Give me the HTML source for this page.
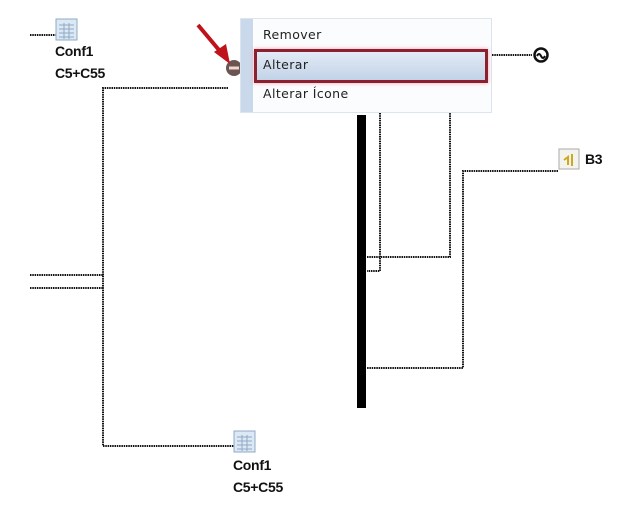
<!DOCTYPE html>
<html><head><style>
body{margin:0;width:637px;height:508px;background:#fff;overflow:hidden;position:relative;font-family:"Liberation Sans",sans-serif}
.lbl{position:absolute;font-weight:bold;font-size:14px;line-height:22px;color:#111;letter-spacing:-0.3px}
.menu{position:absolute;left:240px;top:18px;width:252px;height:95px;background:#fbfcfe;border:1px solid #dde4ee;box-sizing:border-box}
.menu .strip{position:absolute;left:0;top:0;width:12px;height:100%;background:#c9d8ea}
.mi{position:absolute;left:22px;font-family:"DejaVu Sans",sans-serif;font-size:12.5px;color:#222;letter-spacing:0.4px}
.hl{position:absolute;left:13px;top:30px;width:234px;height:34px;box-sizing:border-box;border:3px solid #8b2030;background:linear-gradient(#e2eaf5,#c2d3e8);box-shadow:0 0 4px #f5a0a8}
</style></head><body>
<svg width="637" height="508" style="position:absolute;left:0;top:0">
<g fill="none" stroke="#111" stroke-width="2" stroke-dasharray="1.5 0.8">
<path d="M30 35H56"/>
<path d="M228 88H103V446H234"/>
<path d="M30 275H104M30 288H104"/>
<path d="M492 55H532"/>
<path d="M380 113V271H367M367 257H450V113"/>
<path d="M558 171H463V368H367"/>
</g>
<rect x="357" y="115" width="9" height="293" fill="#000"/>
<circle cx="541" cy="55" r="6.5" fill="none" stroke="#111" stroke-width="2.5"/>
<path d="M537 56q2-4 4 0t4 0" fill="none" stroke="#111" stroke-width="2"/>
<circle cx="234" cy="68" r="8" fill="#6b5553"/>
<rect x="229" y="66.5" width="10" height="3" fill="#f2d6cf"/>
<path d="M198 25L224 56" stroke="#c0121a" stroke-width="4"/>
<path d="M214 52L230 64L226 44Z" fill="#c0121a"/>
<g>
<rect x="56" y="19" width="21" height="21" fill="#dce8f4" stroke="#8fa9c6"/>
<path d="M59 25H74M59 29H74M59 33H74M59 37H74M64 23V39M69 23V39" stroke="#8fa9c6"/>
<rect x="234" y="431" width="21" height="21" fill="#dce8f4" stroke="#8fa9c6"/>
<path d="M237 437H252M237 441H252M237 445H252M237 449H252M242 435V451M247 435V451" stroke="#8fa9c6"/>
<rect x="559" y="149" width="20" height="20" fill="#f4f4ee" stroke="#aaa"/>
<path d="M564 160l4-3v8M572 154v12" stroke="#d0a820" stroke-width="2" fill="none"/>
</g>
</svg>
<div class="lbl" style="left:55px;top:40px">Conf1<br>C5+C55</div>
<div class="lbl" style="left:233px;top:454px">Conf1<br>C5+C55</div>
<div class="lbl" style="left:585px;top:148px">B3</div>
<div class="menu"><div class="strip"></div>
<div class="mi" style="top:8px">Remover</div>
<div class="hl"></div>
<div class="mi" style="top:38px">Alterar</div>
<div class="mi" style="top:67px">Alterar Ícone</div>
</div>
</body></html>
